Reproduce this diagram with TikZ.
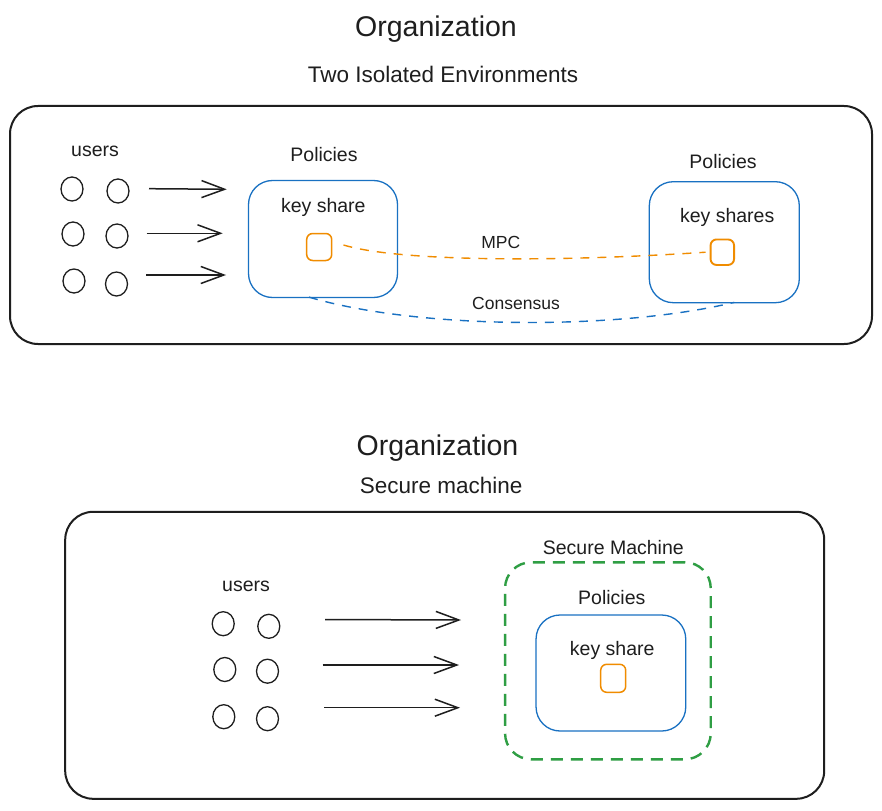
\documentclass[tikz,border=0pt]{standalone}
\usepackage{fontspec}
\setmainfont{Liberation Sans}
\usetikzlibrary{arrows.meta,shapes.geometric}
\definecolor{ink}{HTML}{1E1E1E}
\definecolor{eblue}{HTML}{1971C2}
\definecolor{eorange}{HTML}{F08C00}
\definecolor{egreen}{HTML}{2F9E44}
\tikzset{
  title/.style={anchor=base,inner sep=0pt,font=\fontsize{28.5}{34}\selectfont,text=ink},
  subtitle/.style={anchor=base,inner sep=0pt,font=\fontsize{22.5}{27}\selectfont,text=ink},
  lbl/.style={anchor=base,inner sep=0pt,font=\fontsize{19.5}{23}\selectfont,text=ink},
  hand/.style={anchor=base,inner sep=0pt,font=\fontsize{17.5}{21}\selectfont,text=ink},
  outerbox/.style={draw=ink,line width=2pt,rounded corners=28pt,inner sep=0pt},
  policybox/.style={draw=eblue,line width=1.3pt,rounded corners=24pt,inner sep=0pt},
  keybox/.style={draw=eorange,line width=1.5pt,rounded corners=6pt,inner sep=0pt},
  securebox/.style={draw=egreen,line width=2.4pt,dash pattern=on 12pt off 8pt,rounded corners=26pt,inner sep=0pt},
  user/.style={draw=ink,line width=1.3pt,ellipse,minimum width=22pt,minimum height=24pt,inner sep=0pt},
  arr/.style={draw=ink,line width=1.5pt,-{Straight Barb[length=23pt,width=17pt,line width=1.5pt]}},
  mpc/.style={draw=eorange,line width=1.4pt,dash pattern=on 9pt off 8pt},
  cons/.style={draw=eblue,line width=1.4pt,dash pattern=on 9pt off 8pt},
}
\begin{document}
\begin{tikzpicture}[x=1pt,y=-1pt]
\useasboundingbox (0,0) rectangle (882,810);
\fill[white] (0,0) rectangle (882,810);

% ---------- top part ----------
\node[title] (t1) at (436,37) {Organization};
\node[subtitle] (s1) at (443,83) {Two Isolated Environments};
\node[outerbox,minimum width=862pt,minimum height=238pt] (org1) at (441,225) {};

\node[lbl] (u1) at (95,157) {users};
\node[user] (c11) at (72,189) {};
\node[user] (c12) at (118,191) {};
\node[user] (c13) at (73,234) {};
\node[user] (c14) at (117,236) {};
\node[user] (c15) at (74,281) {};
\node[user] (c16) at (116.5,284) {};

\coordinate (a1s) at (149,188.7); \coordinate (a1e) at (226.7,189.3);
\coordinate (a2s) at (146.7,233.3); \coordinate (a2e) at (222.7,233.3);
\coordinate (a3s) at (146,275); \coordinate (a3e) at (226,275);
\draw[arr] (a1s) -- (a1e);
\draw[arr] (a2s) -- (a2e);
\draw[arr] (a3s) -- (a3e);

\node[lbl] (p1) at (324,161.5) {Policies};
\node[policybox,minimum width=149pt,minimum height=117pt] (b1) at (323,239) {};
\node[lbl] (k1) at (323.3,213) {key share};
\node[keybox,minimum width=25pt,minimum height=27pt] (o1) at (319.2,247) {};

\node[lbl] (p2) at (723,168.3) {Policies};
\node[policybox,minimum width=150pt,minimum height=121pt] (b2) at (724.3,242.2) {};
\node[lbl] (k2) at (727.2,222.7) {key shares};
\node[keybox,line width=1.9pt,minimum width=23.5pt,minimum height=25.5pt] (o2) at (722.3,252.2) {};

\draw[mpc] ([xshift=11pt,yshift=2pt]o1.east) .. controls (400,262) and (560,262) .. ([xshift=-4pt]o2.west);
\node[hand] (mpcl) at (500.8,248.3) {MPC};
\draw[cons] ([xshift=-14pt,yshift=1pt]b1.south) .. controls (420,330) and (620,330) .. ([xshift=10pt,yshift=1pt]b2.south);
\node[hand] (consl) at (516,309) {Consensus};

% ---------- bottom part ----------
\node[title] (t2) at (437.5,455) {Organization};
\node[subtitle] (s2) at (441.2,493) {Secure machine};
\node[outerbox,minimum width=759pt,minimum height=287pt] (org2) at (444.7,655.3) {};

\node[lbl] (u2) at (246,591.7) {users};
\node[user] (c21) at (223.2,623.7) {};
\node[user] (c22) at (268.8,626.3) {};
\node[user] (c23) at (224.8,669.5) {};
\node[user] (c24) at (267.5,671.2) {};
\node[user] (c25) at (223.8,716.7) {};
\node[user] (c26) at (267.5,718.7) {};

\coordinate (b1s) at (325,619.5); \coordinate (b1e) at (461,620);
\coordinate (b2s) at (322.7,665); \coordinate (b2e) at (459,665);
\coordinate (b3s) at (324.3,707.7); \coordinate (b3e) at (460,707.7);
\draw[arr] (b1s) -- (b1e);
\draw[arr] (b2s) -- (b2e);
\draw[arr] (b3s) -- (b3e);

\node[lbl] (sm) at (613.3,554.3) {Secure Machine};
\node[securebox,minimum width=205.7pt,minimum height=197pt] (g) at (607.9,660.8) {};
\node[lbl] (p3) at (611.8,604.3) {Policies};
\node[policybox,minimum width=149.7pt,minimum height=116pt] (b3) at (610.9,673) {};
\node[lbl] (k3) at (612.2,655) {key share};
\node[keybox,minimum width=25pt,minimum height=28pt] (o3) at (613.2,678.3) {};
\end{tikzpicture}
\end{document}
